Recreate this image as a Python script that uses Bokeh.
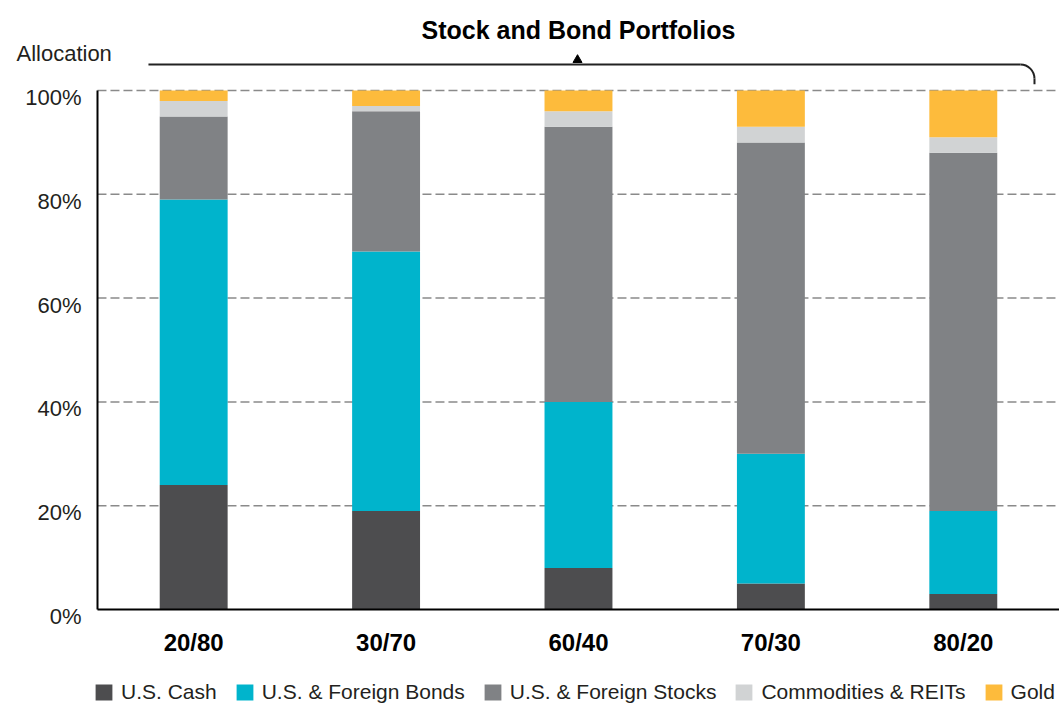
import math
from bokeh.plotting import figure
from bokeh.models import (ColumnDataSource, Range1d, FixedTicker, Label, LinearAxis,
                          Legend, LegendItem)
from bokeh.core.properties import value
from bokeh.embed import file_html
from bokeh.resources import INLINE

# ---- data ----
categories = ["20/80", "30/70", "60/40", "70/30", "80/20"]
us_cash = [24, 19, 8, 5, 3]
bonds = [55, 50, 32, 25, 16]
stocks = [16, 27, 53, 60, 69]
commodities = [3, 1, 3, 3, 3]
gold = [2, 3, 4, 7, 9]

series_keys = ["cash", "bonds", "stocks", "commodities", "gold"]
series_labels = ["U.S. Cash", "U.S. & Foreign Bonds", "U.S. & Foreign Stocks",
                 "Commodities & REITs", "Gold"]
colors = ["#4D4D4F", "#00B4CC", "#808285", "#D1D3D4", "#FDBB3C"]
y_ticks = [0, 20, 40, 60, 80, 100]
y_tick_labels = ["0%", "20%", "40%", "60%", "80%", "100%"]
grid_ticks = [20, 40, 60, 80, 100]
title_text = "Stock and Bond Portfolios"
y_title = "Allocation"

FONT = "'Liberation Sans', Arial, sans-serif"
TXT = "#231F20"

n = len(categories)
x_pos = [i + 0.5 for i in range(n)]

source = ColumnDataSource(dict(x=x_pos, cash=us_cash, bonds=bonds, stocks=stocks,
                               commodities=commodities, gold=gold))

p = figure(x_range=Range1d(-0.504, n), y_range=Range1d(-18.30, 117.34),
           width=1059, height=704, output_backend="svg", toolbar_location=None,
           min_border=0, x_axis_type=None, y_axis_type=None)
p.title.visible = False
p.outline_line_color = None
p.background_fill_color = "white"
p.border_fill_color = "white"
p.xgrid.visible = False
p.ygrid.visible = False

# dashed gridlines (behind the bars), spanning the category area only
p.segment(x0=[0] * len(grid_ticks), x1=[n] * len(grid_ticks), y0=grid_ticks, y1=grid_ticks,
          line_color="#8A8A8A", line_width=1.5, line_dash="9 4")

renderers = p.vbar_stack(series_keys, x="x", width=0.353, color=colors, line_color=None,
                         source=source)

# y axis (fixed at the left edge of the category area)
yax = LinearAxis(fixed_location=0, ticker=FixedTicker(ticks=y_ticks), bounds=(0, 100),
                 major_tick_line_color=None, minor_tick_line_color=None,
                 major_label_text_color=None, axis_line_color="black", axis_line_width=2)
p.add_layout(yax, "left")

# x axis (fixed at 0 %)
xax = LinearAxis(fixed_location=0, ticker=FixedTicker(ticks=x_pos), bounds=(0, n),
                 major_label_overrides={x: c for x, c in zip(x_pos, categories)},
                 major_tick_line_color=None, minor_tick_line_color=None, major_tick_out=0,
                 major_label_standoff=19, axis_line_color="black", axis_line_width=2,
                 major_label_text_font=FONT, major_label_text_font_style="bold",
                 major_label_text_font_size="24px", major_label_text_color="black")
p.add_layout(xax, "below")

# y tick labels (sitting slightly below their gridlines, as in the original)
tick_src = ColumnDataSource(dict(y=y_ticks, t=y_tick_labels))
p.text(x=-0.083, y="y", text="t", source=tick_src, y_offset=7, text_align="right",
       text_baseline="middle", text_font=value(FONT), text_font_size="22px",
       text_color=TXT)

# bracket above bars
p.line(x=[0.265, 4.797], y=[105.0, 105.0], line_color="#222222", line_width=2)
p.arc(x=[4.797], y=[102.3], radius=14, radius_units="screen",
      start_angle=0, end_angle=math.pi / 2, line_color="#222222", line_width=2)
p.line(x=[4.87, 4.87], y=[102.3, 101.2], line_color="#222222", line_width=2)
p.scatter(x=[2.495], y=[105.9], marker="triangle", size=9, color="black")

p.add_layout(Label(x=2.5, y=111.6, text=title_text, text_align="center",
                   text_baseline="middle", text_font=FONT, text_font_style="bold",
                   text_font_size="25px", text_color="black"))
p.add_layout(Label(x=-0.421, y=107.1, text=y_title, text_align="left",
                   text_baseline="middle", text_font=FONT, text_font_size="22px",
                   text_color=TXT))

# legend
lg = Legend(items=[LegendItem(label=l, renderers=[r]) for l, r in zip(series_labels, renderers)],
            location=(93, 0), orientation="horizontal", glyph_width=21, glyph_height=20,
            label_standoff=7, spacing=17, padding=0, margin=0, border_line_color=None,
            background_fill_alpha=0, label_text_font=FONT, label_text_font_size="21px",
            label_text_color=TXT)
p.add_layout(lg)

open("out.html", "w").write(file_html(p, INLINE))
